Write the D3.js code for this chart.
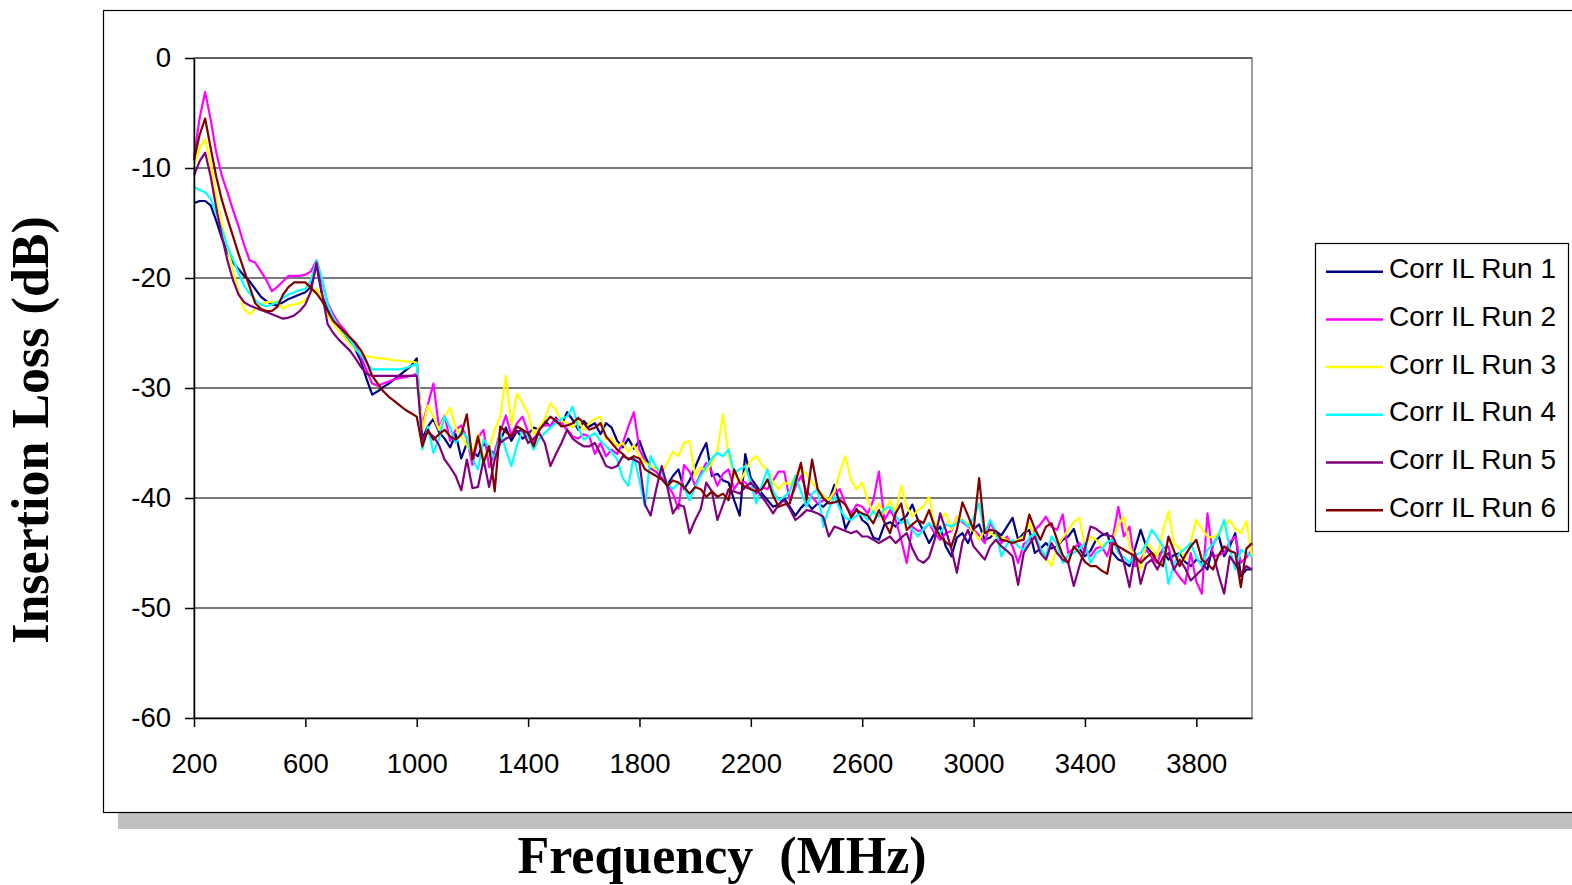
<!DOCTYPE html>
<html>
<head>
<meta charset="utf-8">
<script src="https://cdn.jsdelivr.net/npm/d3@7/dist/d3.min.js"></script>
<style>
  body { margin: 0; background: #fff; }
  text { font-family: "Liberation Sans", Arial, sans-serif; }
</style>
</head>
<body>
<div id="ilchart"></div>
<script>
// frequency sweep, 20 MHz steps
var freqs = d3.range(200, 4001, 20);

var run1 = [
  -13.2, -13.0, -13.0, -13.4, -14.8, -16.4, -17.6, -18.6, -19.2, -19.8, -20.3, -21.0, -21.7, -22.1, -22.4, -22.5, -22.2, -21.9, -21.7, -21.5,
  -21.3, -20.8, -18.8, -21.6, -22.9, -23.7, -24.4, -25.0, -25.7, -26.5, -27.6, -29.2, -30.6, -30.3, -29.9, -29.6, -29.2, -28.8, -28.4, -28.0,
  -27.3, -34.6, -33.5, -32.8, -34.0, -34.6, -35.4, -34.2, -36.4, -35.0, -35.8, -36.2, -35.0, -35.6, -36.0, -34.8, -33.6, -34.8, -33.9, -34.6,
  -34.2, -33.6, -33.8, -33.0, -33.5, -32.7, -33.4, -32.2, -32.9, -33.8, -33.0, -33.5, -33.2, -34.2, -33.2, -33.6, -34.8, -35.4, -34.6, -35.5,
  -34.8, -36.2, -37.3, -37.6, -38.2, -38.8, -38.0, -37.4, -39.2, -38.4, -37.2, -36.0, -35.0, -38.0, -37.8, -38.4, -38.6, -40.2, -41.6, -36.0,
  -38.2, -38.9, -39.6, -40.2, -40.8, -40.6, -40.0, -40.8, -41.6, -40.9, -40.4, -41.0, -40.5, -40.8, -40.3, -38.8, -40.6, -42.8, -41.8, -41.0,
  -42.0, -42.4, -43.6, -43.8, -42.4, -42.2, -42.6, -42.0, -41.6, -40.6, -42.0, -43.0, -44.1, -43.2, -42.6, -44.4, -45.3, -43.6, -43.2, -44.1,
  -42.8, -42.4, -43.8, -43.6, -43.0, -43.4, -42.6, -41.8, -43.8, -43.2, -42.9, -45.0, -44.6, -44.1, -44.6, -44.4, -43.8, -43.5, -42.8, -44.6,
  -45.3, -44.8, -43.8, -43.4, -43.2, -45.0, -45.6, -45.8, -46.2, -44.6, -42.9, -44.4, -45.0, -45.3, -44.8, -45.6, -45.2, -45.0, -45.8, -46.2,
  -45.6, -45.9, -46.5, -44.2, -43.4, -45.3, -44.4, -43.2, -47.1, -46.5, -46.5
];
var run2 = [
  -9.0, -5.5, -3.1, -5.6, -8.6, -10.7, -12.2, -13.8, -15.3, -17.0, -18.4, -18.6, -19.4, -20.2, -21.2, -20.8, -20.3, -19.8, -19.8, -19.8,
  -19.7, -19.4, -18.4, -20.2, -22.3, -23.3, -24.1, -24.7, -25.4, -26.1, -27.2, -28.4, -29.6, -29.8, -29.6, -29.4, -29.2, -29.1, -29.0, -28.9,
  -28.7, -33.4, -31.5, -29.6, -33.6, -32.5, -34.8, -33.8, -33.4, -34.6, -37.0, -34.5, -33.8, -37.2, -35.8, -34.0, -32.5, -34.3, -33.2, -32.6,
  -34.0, -35.0, -33.6, -33.4, -33.4, -32.8, -33.2, -33.8, -34.4, -34.6, -34.2, -34.4, -36.0, -35.0, -36.2, -35.6, -36.0, -35.0, -33.5, -32.2,
  -35.6, -36.6, -37.2, -37.6, -38.2, -38.8, -39.6, -41.0, -37.0, -37.6, -38.9, -37.8, -36.8, -37.6, -38.9, -37.8, -37.4, -39.2, -38.4, -38.6,
  -39.2, -39.6, -39.0, -39.2, -38.4, -37.6, -37.6, -40.2, -39.0, -38.0, -39.4, -39.9, -40.5, -40.2, -40.2, -39.6, -39.2, -40.6, -41.4, -40.6,
  -40.8, -41.4, -40.2, -37.6, -42.0, -41.1, -42.0, -43.8, -45.9, -42.6, -43.0, -42.9, -42.3, -43.2, -43.8, -43.2, -43.0, -41.7, -42.2, -42.6,
  -42.9, -43.4, -44.1, -42.2, -43.2, -44.1, -43.5, -44.4, -45.9, -44.2, -43.8, -42.9, -42.4, -41.7, -42.6, -42.9, -41.5, -45.0, -44.6, -44.1,
  -44.8, -45.3, -44.6, -44.4, -45.3, -43.6, -40.8, -43.5, -42.6, -46.2, -45.6, -44.7, -45.4, -45.9, -44.6, -44.4, -46.5, -47.2, -47.8, -45.0,
  -47.6, -48.7, -41.4, -45.3, -45.2, -45.0, -44.0, -43.5, -45.9, -45.4, -44.7
];
var run3 = [
  -9.8, -8.2, -7.4, -9.6, -12.6, -15.0, -17.2, -19.3, -21.2, -22.8, -23.3, -22.8, -22.4, -22.2, -22.2, -22.2, -22.8, -22.5, -22.4, -22.3,
  -22.0, -21.4, -21.0, -21.8, -23.4, -24.1, -24.8, -25.4, -26.0, -26.5, -26.9, -27.1, -27.2, -27.3, -27.3, -27.4, -27.5, -27.5, -27.6, -27.6,
  -27.7, -33.8, -31.6, -32.6, -33.8, -32.6, -31.8, -33.6, -34.4, -35.2, -35.9, -34.2, -36.4, -35.6, -33.8, -32.6, -28.9, -33.4, -30.5, -31.4,
  -32.3, -34.2, -33.6, -32.8, -31.4, -32.0, -33.0, -33.2, -33.6, -33.0, -33.8, -33.2, -32.8, -32.6, -34.7, -34.6, -35.3, -35.0, -35.8, -35.2,
  -36.2, -36.8, -37.1, -37.4, -37.7, -36.8, -35.8, -36.2, -35.0, -34.8, -38.0, -37.2, -37.6, -36.8, -35.6, -32.4, -36.2, -37.8, -38.6, -37.6,
  -36.6, -36.2, -37.0, -37.4, -38.6, -39.2, -38.6, -38.8, -38.0, -37.4, -37.8, -38.6, -39.2, -39.8, -40.2, -39.4, -37.6, -36.2, -38.4, -39.2,
  -38.6, -40.2, -41.4, -40.5, -41.4, -40.2, -41.4, -38.9, -40.8, -41.7, -41.1, -40.8, -39.9, -42.6, -41.8, -41.4, -42.9, -41.7, -42.0, -42.3,
  -43.0, -43.8, -42.9, -43.2, -43.5, -43.6, -43.8, -44.1, -43.8, -43.5, -42.3, -43.6, -44.7, -45.4, -46.2, -44.4, -43.6, -42.9, -42.2, -41.8,
  -44.6, -43.5, -43.8, -44.4, -44.0, -43.8, -42.4, -41.7, -44.4, -45.4, -46.5, -44.1, -44.6, -45.3, -43.0, -41.2, -44.1, -44.6, -45.6, -44.0,
  -42.0, -42.8, -43.5, -43.6, -43.2, -42.6, -42.0, -42.8, -43.2, -42.1, -45.3
];
var run4 = [
  -11.7, -12.0, -12.2, -12.8, -14.1, -15.6, -17.1, -18.3, -19.5, -20.7, -21.4, -22.0, -22.4, -22.6, -22.4, -22.2, -21.8, -21.5, -21.3, -21.1,
  -21.0, -20.2, -18.4, -20.1, -22.4, -23.6, -24.4, -25.0, -25.6, -26.4, -27.0, -27.7, -28.3, -28.3, -28.3, -28.3, -28.3, -28.3, -28.2, -28.0,
  -27.8, -35.6, -33.5, -35.9, -34.6, -32.6, -33.6, -35.0, -34.0, -34.4, -36.4, -37.4, -34.7, -35.4, -36.5, -34.1, -35.6, -37.1, -35.2, -33.8,
  -34.4, -35.6, -34.6, -34.1, -33.6, -33.2, -32.8, -32.6, -31.7, -33.6, -34.7, -34.4, -34.1, -34.8, -35.3, -35.8, -36.5, -38.2, -38.9, -36.2,
  -38.4, -40.8, -36.2, -37.2, -37.7, -38.6, -39.2, -38.6, -39.0, -40.2, -39.0, -38.0, -37.2, -36.4, -35.9, -36.2, -35.6, -37.7, -37.4, -37.1,
  -38.6, -40.5, -38.8, -37.4, -39.4, -40.2, -39.9, -39.4, -38.0, -39.4, -40.8, -39.6, -39.2, -42.6, -41.0, -39.9, -41.0, -41.8, -42.0, -41.6,
  -41.4, -42.0, -41.2, -41.7, -41.0, -40.8, -41.6, -42.3, -42.0, -42.9, -43.5, -42.8, -42.3, -42.8, -43.2, -42.4, -42.6, -42.3, -42.0, -42.6,
  -41.8, -40.5, -43.2, -42.0, -43.0, -45.3, -44.2, -43.8, -44.4, -44.7, -43.6, -43.2, -44.6, -45.3, -43.5, -44.2, -45.9, -45.2, -45.0, -44.6,
  -44.1, -45.9, -45.0, -44.7, -44.0, -43.8, -45.0, -45.4, -45.9, -45.2, -45.0, -44.2, -42.9, -43.6, -44.4, -47.8, -46.0, -45.0, -44.6, -44.1,
  -45.4, -46.2, -44.7, -44.2, -43.4, -42.0, -44.6, -46.5, -44.7, -45.0, -45.3
];
var run5 = [
  -10.7, -9.4, -8.6, -10.8, -13.6, -16.2, -18.4, -20.2, -21.5, -22.2, -22.5, -22.7, -22.9, -23.1, -23.3, -23.5, -23.7, -23.6, -23.4, -23.0,
  -22.4, -21.2, -18.6, -21.4, -24.2, -25.0, -25.6, -26.1, -26.6, -27.3, -28.1, -28.7, -28.9, -28.9, -28.9, -28.9, -28.9, -28.9, -28.9, -28.9,
  -28.9, -34.7, -34.0, -34.4, -35.2, -36.5, -37.2, -38.0, -39.3, -36.5, -39.1, -39.0, -36.5, -39.0, -36.5, -35.0, -34.6, -34.4, -34.0, -33.8,
  -35.0, -34.6, -34.1, -35.0, -37.1, -36.0, -35.0, -33.8, -34.6, -35.0, -35.3, -35.3, -35.0, -36.0, -37.1, -37.3, -37.1, -36.2, -36.4, -36.5,
  -36.8, -40.6, -41.6, -39.2, -37.1, -39.0, -41.4, -40.6, -40.8, -43.2, -42.0, -41.0, -38.6, -39.4, -42.0, -40.6, -39.2, -39.4, -39.6, -39.0,
  -38.6, -39.2, -39.9, -40.6, -41.4, -40.6, -40.2, -41.0, -42.0, -41.6, -41.1, -41.2, -41.4, -41.7, -43.5, -42.6, -42.8, -43.0, -43.2, -43.0,
  -43.5, -43.5, -43.8, -44.1, -43.8, -43.5, -44.1, -43.6, -43.2, -44.6, -45.6, -45.9, -45.4, -43.8, -41.4, -42.9, -44.6, -46.8, -44.0, -42.9,
  -44.4, -45.0, -45.6, -44.4, -43.8, -44.4, -44.8, -45.3, -47.9, -45.0, -44.2, -43.5, -45.0, -45.6, -44.1, -45.0, -45.6, -45.9, -48.0, -46.2,
  -44.6, -42.6, -42.8, -43.2, -43.4, -43.5, -44.6, -45.9, -48.1, -45.0, -47.8, -46.0, -45.6, -46.5, -45.4, -45.0, -46.5, -45.6, -46.4, -47.5,
  -47.0, -46.5, -45.6, -45.0, -47.0, -48.7, -45.3, -46.0, -46.9, -46.2, -46.5
];
var run6 = [
  -9.3, -7.0, -5.5, -8.2, -10.8, -12.9, -14.6, -16.2, -17.8, -19.3, -20.8, -22.3, -22.8, -23.0, -23.0, -22.6, -21.5, -20.8, -20.4, -20.4,
  -20.4, -20.9, -21.4, -22.1, -23.0, -23.9, -24.4, -24.9, -25.4, -25.9, -26.6, -27.6, -28.9, -29.6, -30.3, -30.8, -31.2, -31.6, -32.0, -32.3,
  -32.6, -35.3, -33.8, -34.7, -34.2, -33.8, -34.4, -34.7, -34.2, -32.4, -36.5, -34.4, -36.8, -35.3, -39.4, -33.5, -34.0, -34.4, -33.5, -33.8,
  -34.1, -35.3, -33.8, -33.2, -32.6, -33.0, -33.5, -33.4, -33.2, -32.7, -33.2, -33.8, -33.6, -33.2, -34.4, -35.0, -35.6, -36.0, -36.5, -36.2,
  -36.4, -37.4, -37.7, -38.0, -38.3, -38.9, -38.4, -38.6, -39.0, -39.6, -39.0, -39.2, -39.9, -39.4, -39.9, -39.6, -40.2, -37.4, -38.6, -39.0,
  -39.2, -39.4, -39.2, -38.3, -39.8, -40.8, -40.6, -40.5, -38.6, -36.8, -40.2, -36.5, -39.2, -40.0, -40.5, -40.4, -40.2, -40.6, -41.7, -41.1,
  -41.4, -41.6, -42.3, -41.1, -42.2, -43.2, -41.4, -40.5, -42.9, -42.4, -42.0, -42.3, -41.1, -42.6, -43.5, -44.0, -44.4, -42.9, -40.4, -41.6,
  -42.9, -38.2, -43.2, -42.9, -43.0, -43.8, -43.9, -44.1, -43.9, -43.8, -41.5, -42.8, -43.8, -42.6, -42.3, -43.8, -45.2, -45.9, -44.4, -45.0,
  -45.8, -46.2, -46.2, -46.6, -46.9, -44.1, -44.4, -44.7, -45.0, -45.3, -45.9, -45.4, -45.0, -45.8, -46.2, -43.5, -44.8, -46.2, -45.2, -44.4,
  -43.8, -45.6, -46.0, -46.5, -45.2, -44.4, -44.8, -45.0, -48.1, -44.6, -44.1
];

var runNames = ["Corr IL Run 1", "Corr IL Run 2", "Corr IL Run 3", "Corr IL Run 4", "Corr IL Run 5", "Corr IL Run 6"];
var runColors = ["#000080", "#ff00ff", "#ffff00", "#00ffff", "#800080", "#800000"];
var xTicks = [200, 600, 1000, 1400, 1800, 2200, 2600, 3000, 3400, 3800];
var yTicks = [0, -10, -20, -30, -40, -50, -60];

var runs = [run1, run2, run3, run4, run5, run6];

var width = 1572,
    height = 885,
    margin = {top: 58, right: 320, bottom: 167, left: 194},
    width_g = width - margin.left - margin.right,
    height_g = height - margin.top - margin.bottom;

var svg = d3.select("#ilchart").append("svg")
    .attr("width", width)
    .attr("height", height);

// chart area with drop shadow
svg.append("rect")
    .attr("x", 118).attr("y", 25)
    .attr("width", 1470).attr("height", 804)
    .attr("fill", "#c0c0c0");
svg.append("rect")
    .attr("x", 103.5).attr("y", 10.5)
    .attr("width", 1480).attr("height", 802)
    .attr("fill", "#fff")
    .attr("stroke", "#000")
    .attr("stroke-width", 1.2);

var x = d3.scaleLinear().domain([200, 4000]).range([0, width_g]);
var y = d3.scaleLinear().domain([-60, 0]).range([height_g, 0]);

var frg = svg.append("g")
    .attr("transform", "translate(" + margin.left + "," + margin.top + ")");

// plot area border
frg.append("rect")
    .attr("width", width_g).attr("height", height_g)
    .attr("fill", "none")
    .attr("stroke", "#808080")
    .attr("stroke-width", 1.5);

// gridlines
frg.append("g").selectAll("line")
    .data(yTicks.filter(function(d) { return d > -60; }))
    .enter().append("line")
    .attr("x1", 0).attr("x2", width_g)
    .attr("y1", function(d) { return y(d); })
    .attr("y2", function(d) { return y(d); })
    .attr("stroke", "#4d4d4d")
    .attr("stroke-width", 1.5);

var line = d3.line()
    .x(function(d, i) { return x(freqs[i]); })
    .y(function(d) { return y(d); });

frg.append("g").selectAll("path")
    .data(runs)
    .enter().append("path")
    .attr("d", line)
    .attr("fill", "none")
    .attr("stroke", function(d, i) { return runColors[i]; })
    .attr("stroke-width", 2.2)
    .attr("stroke-linejoin", "round");

var plainNum = function(d) { return String(d); };
var yAxis = d3.axisLeft(y)
    .tickValues(yTicks)
    .tickFormat(plainNum)
    .tickSize(9)
    .tickSizeOuter(0)
    .tickPadding(14);
var xAxis = d3.axisBottom(x)
    .tickValues(xTicks)
    .tickFormat(plainNum)
    .tickSize(9)
    .tickSizeOuter(0)
    .tickPadding(26);

var ya = frg.append("g").call(yAxis);
var xa = frg.append("g").attr("transform", "translate(0," + height_g + ")").call(xAxis);
[ya, xa].forEach(function(a) {
  a.selectAll("path, line").attr("stroke", "#000").attr("stroke-width", 1.5);
  a.selectAll("text")
    .attr("font-size", 27.5)
    .attr("fill", "#000")
    .style("font-family", "'Liberation Sans', Arial, sans-serif");
});

// axis titles
svg.append("text")
    .attr("transform", "translate(48,430) rotate(-90)")
    .attr("text-anchor", "middle")
    .style("font-family", "'Liberation Serif', 'Times New Roman', serif")
    .style("font-weight", "bold")
    .attr("font-size", 52)
    .text("Insertion Loss (dB)");

svg.append("text")
    .attr("x", 722).attr("y", 873)
    .attr("text-anchor", "middle")
    .style("font-family", "'Liberation Serif', 'Times New Roman', serif")
    .style("font-weight", "bold")
    .style("white-space", "pre")
    .attr("font-size", 52)
    .text("Frequency  (MHz)");

// legend
var legend = svg.append("g");
legend.append("rect")
    .attr("x", 1315.5).attr("y", 243.5)
    .attr("width", 253).attr("height", 288)
    .attr("fill", "#fff")
    .attr("stroke", "#000")
    .attr("stroke-width", 1.2);
var items = legend.selectAll("g.item")
    .data(runNames)
    .enter().append("g")
    .attr("class", "item")
    .attr("transform", function(d, i) { return "translate(0," + (271.7 + i * 47.7) + ")"; });
items.append("line")
    .attr("x1", 1326).attr("x2", 1383)
    .attr("stroke", function(d, i) { return runColors[i]; })
    .attr("stroke-width", 2.5);
items.append("text")
    .attr("x", 1389).attr("y", 6.5)
    .attr("font-size", 28)
    .attr("fill", "#000")
    .text(function(d) { return d; });
</script>
</body>
</html>
